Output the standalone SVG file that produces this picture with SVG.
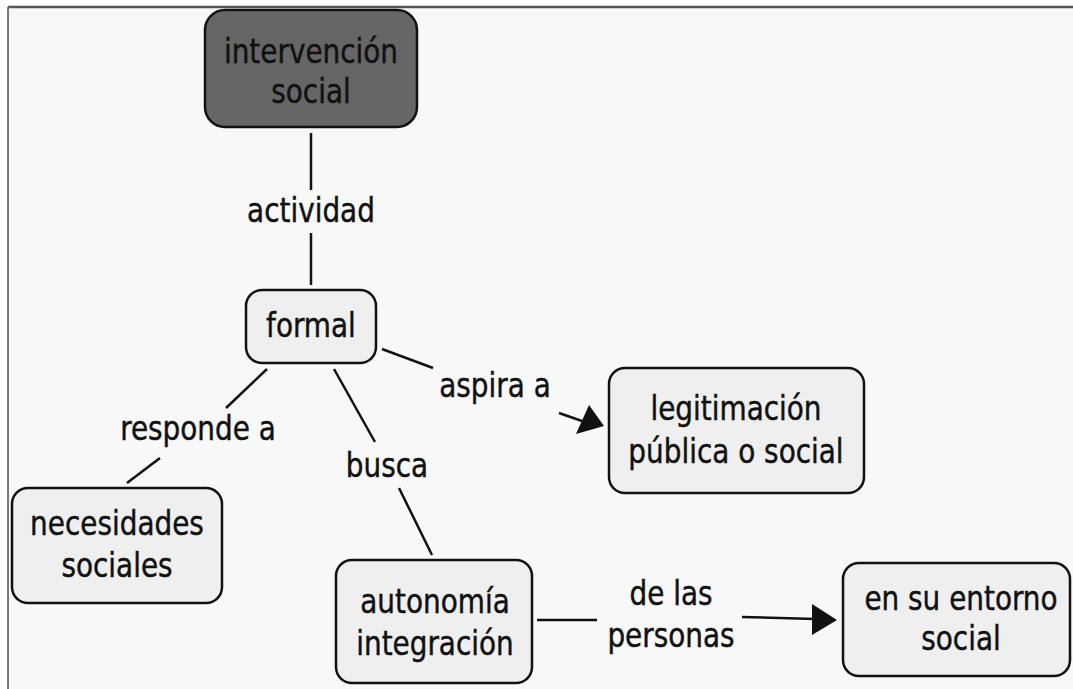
<svg xmlns="http://www.w3.org/2000/svg" width="1073" height="689" viewBox="0 0 1073 689">
<defs>
<style>
text{font-family:"DejaVu Sans Condensed","DejaVu Sans",sans-serif;font-size:31px;fill:#111;stroke:#111;stroke-width:0.4;text-anchor:middle;font-stretch:condensed;transform-box:fill-box;transform-origin:50% 70%;transform:scaleY(1.1)}
.box{fill:#efefef;stroke:#111;stroke-width:2.5}
.dark{fill:#666;stroke:#111;stroke-width:2.5}
.ln{stroke:#111;stroke-width:2.5;fill:none}
</style>
</defs>
<rect x="0" y="0" width="1073" height="689" fill="#fff"/>
<rect x="8" y="7" width="1070" height="690" fill="#f8f8f8"/>
<line x1="8" y1="7" x2="1073" y2="7" stroke="#555" stroke-width="2.5"/>
<line x1="8" y1="7" x2="8" y2="689" stroke="#777" stroke-width="2"/>
<g id="connectors">
<line class="ln" x1="311" y1="133" x2="311" y2="190"/>
<line class="ln" x1="311" y1="233" x2="311" y2="285"/>
<text x="311" y="222">actividad</text>
<line class="ln" x1="267" y1="369" x2="226" y2="408"/>
<line class="ln" x1="160" y1="458" x2="127" y2="483"/>
<text x="198" y="440">responde a</text>
<line class="ln" x1="334" y1="369" x2="375" y2="442"/>
<line class="ln" x1="399" y1="488" x2="432" y2="555"/>
<text x="387" y="477">busca</text>
<line class="ln" x1="382" y1="349" x2="433" y2="368"/>
<line class="ln" x1="559" y1="413" x2="582" y2="421"/>
<path d="M604,426 L576,434 L589,405 z" fill="#111"/>
<text x="495" y="397">aspira a</text>
<line class="ln" x1="537" y1="620" x2="597" y2="620"/>
<line class="ln" x1="742" y1="617" x2="815" y2="619"/>
<path d="M837,620 L812,604 L812,635 z" fill="#111"/>
<text x="671" y="605">de las</text>
<text x="671" y="647">personas</text>
</g>
<g id="n-intervencion">
<rect class="dark" x="205" y="10" width="212" height="117" rx="20"/>
<text x="311" y="63">intervención</text>
<text x="311" y="103">social</text>
</g>
<g id="n-formal">
<rect class="box" x="246" y="290" width="130" height="73" rx="16"/>
<text x="311" y="337">formal</text>
</g>
<g id="n-necesidades">
<rect class="box" x="12" y="488" width="210" height="115" rx="16"/>
<text x="117" y="535">necesidades</text>
<text x="117" y="577">sociales</text>
</g>
<g id="n-legitimacion">
<rect class="box" x="609" y="368" width="255" height="125" rx="16"/>
<text x="736" y="420">legitimación</text>
<text x="736" y="463">pública o social</text>
</g>
<g id="n-autonomia">
<rect class="box" x="336" y="560" width="196" height="123" rx="16"/>
<text x="435" y="613">autonomía</text>
<text x="435" y="655">integración</text>
</g>
<g id="n-entorno">
<rect class="box" x="843" y="563" width="227" height="113" rx="16"/>
<text x="961" y="610">en su entorno</text>
<text x="961" y="650">social</text>
</g>
</svg>
